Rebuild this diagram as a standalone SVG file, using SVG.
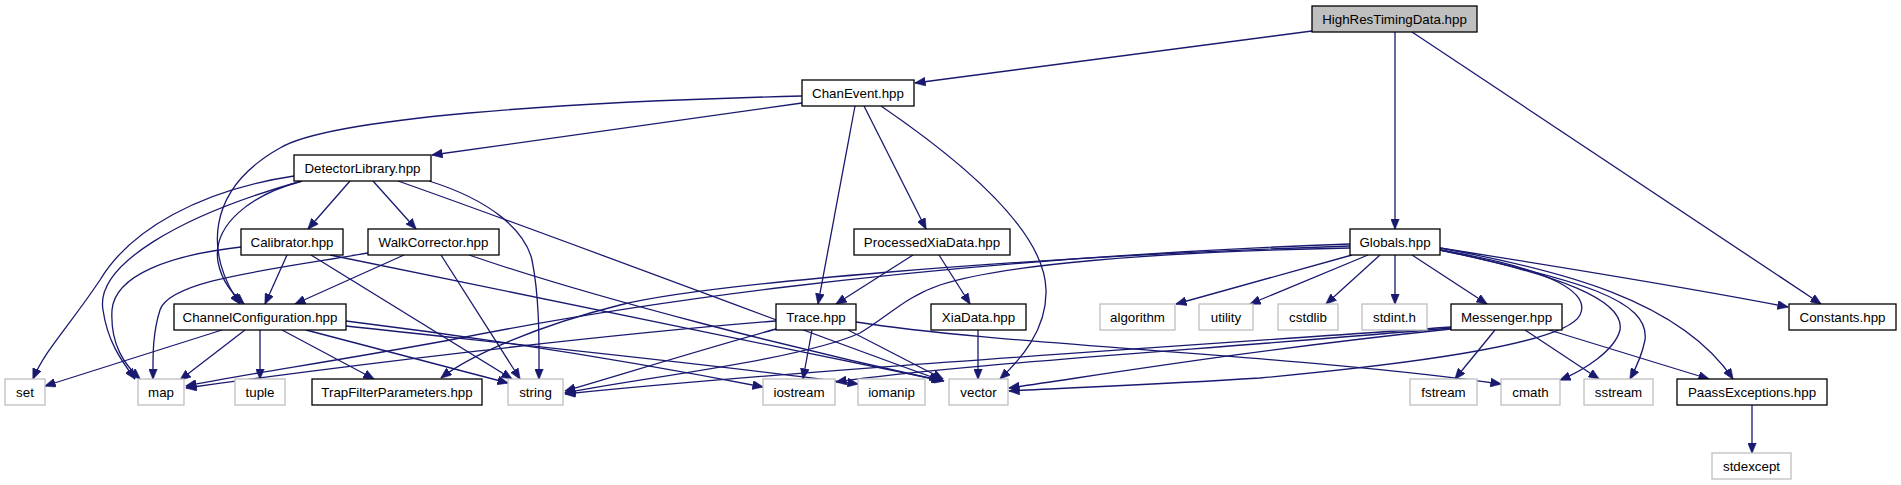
<svg xmlns="http://www.w3.org/2000/svg" width="1901" height="485" viewBox="0 0 1901 485">
<style>
.n rect{fill:#fff;stroke:#000;stroke-width:1.3}
.g rect{fill:#fff;stroke:#bfbfbf;stroke-width:1.3}
.r rect{fill:#bfbfbf;stroke:#000;stroke-width:1.3}
text{font-family:"Liberation Sans",Arial,sans-serif;font-size:13.33px;text-anchor:middle;fill:#000}
#edges path{fill:none;stroke:#191970;stroke-width:1.3;marker-end:url(#a)}
</style>
<defs>
<marker id="a" markerWidth="11" markerHeight="9" refX="10.5" refY="4.5" orient="auto" markerUnits="userSpaceOnUse">
<path d="M0,0 L11,4.5 L0,9 z" fill="#191970" stroke="#191970" stroke-width="0.5"/>
</marker>
</defs>
<rect width="1901" height="485" fill="#fff"/>
<g id="edges">
<path d="M1312,31 L915,83"/>
<path d="M1395,32 L1395,229"/>
<path d="M1412,32 L1821,304"/>
<path d="M802,103 L432,155"/>
<path d="M802,96 C560,102 330,118 280,148 C205,190 205,255 240,304"/>
<path d="M855,106 L818,304"/>
<path d="M864,106 L926,229"/>
<path d="M881,106 C960,160 1045,230 1046,290 C1047,330 1020,360 1000,379"/>
<path d="M350,181 L308,229"/>
<path d="M373,181 L416,229"/>
<path d="M302,181 C250,195 212,225 218,262 C222,282 232,293 244,304"/>
<path d="M294,176 C200,190 130,230 100,280 C70,325 45,350 33,379"/>
<path d="M302,181 C180,215 95,265 103,310 C108,345 125,365 135,379"/>
<path d="M429,181 C490,200 525,230 532,260 C540,300 539,345 539,379"/>
<path d="M398,181 C560,238 800,330 940,380"/>
<path d="M287,255 L265,304"/>
<path d="M241,247 C170,255 115,275 112,310 C110,345 125,365 140,379"/>
<path d="M311,255 L512,379"/>
<path d="M330,255 L944,381"/>
<path d="M404,255 L295,304"/>
<path d="M368,253 C270,270 170,280 160,310 C152,335 153,360 153,379"/>
<path d="M441,255 L520,379"/>
<path d="M469,255 C600,300 800,350 942,381"/>
<path d="M222,330 L45,386"/>
<path d="M245,330 L180,380"/>
<path d="M260,330 L260,379"/>
<path d="M282,330 L374,379"/>
<path d="M306,330 L508,383"/>
<path d="M346,321 C500,340 650,365 763,387"/>
<path d="M346,326 C520,345 720,365 858,384"/>
<path d="M913,255 L836,304"/>
<path d="M939,255 L970,304"/>
<path d="M776,321 C600,335 350,365 186,388"/>
<path d="M776,329 C700,350 620,375 565,391"/>
<path d="M812,330 L803,379"/>
<path d="M848,330 L943,379"/>
<path d="M856,322 C1000,345 1300,355 1501,384"/>
<path d="M978,330 L978,379"/>
<path d="M1350,244 C900,260 600,310 450,340 C330,362 240,375 186,386"/>
<path d="M1350,246 C1000,258 700,285 620,305 C540,325 470,355 441,378"/>
<path d="M1350,248 C1150,252 1000,265 940,285 C905,297 890,315 860,333 C800,360 640,378 565,393"/>
<path d="M1440,250 C1560,270 1590,295 1580,315 C1565,345 1400,365 1260,378 C1150,385 1060,388 1009,391"/>
<path d="M1352,255 L1176,304"/>
<path d="M1368,255 L1250,304"/>
<path d="M1380,255 L1326,304"/>
<path d="M1395,255 L1395,304"/>
<path d="M1412,255 L1487,304"/>
<path d="M1440,248 C1580,270 1700,290 1788,307"/>
<path d="M1440,250 C1560,275 1625,300 1620,330 C1615,350 1585,370 1560,380"/>
<path d="M1440,250 C1580,280 1650,300 1645,340 C1642,355 1636,368 1630,379"/>
<path d="M1440,248 C1560,270 1680,300 1733,379"/>
<path d="M1451,327 C1200,345 800,370 565,394"/>
<path d="M1451,328 C1200,350 950,365 836,382"/>
<path d="M1451,329 C1250,350 1100,375 1009,388"/>
<path d="M1495,330 L1455,379"/>
<path d="M1525,330 L1599,379"/>
<path d="M1546,329 L1709,379"/>
<path d="M1752,404 L1752,453"/>
</g>
<g id="HighResTimingData" class="r"><rect x="1312" y="6" width="165" height="26"/><text x="1394.5" y="23.5">HighResTimingData.hpp</text></g>
<g id="ChanEvent" class="n"><rect x="802" y="80" width="112" height="26"/><text x="858" y="97.5">ChanEvent.hpp</text></g>
<g id="DetectorLibrary" class="n"><rect x="294" y="155" width="137" height="26"/><text x="362.5" y="172.5">DetectorLibrary.hpp</text></g>
<g id="Calibrator" class="n"><rect x="241" y="229" width="102" height="26"/><text x="292" y="246.5">Calibrator.hpp</text></g>
<g id="WalkCorrector" class="n"><rect x="368" y="229" width="131" height="26"/><text x="433.5" y="246.5">WalkCorrector.hpp</text></g>
<g id="ProcessedXiaData" class="n"><rect x="854" y="229" width="156" height="26"/><text x="932" y="246.5">ProcessedXiaData.hpp</text></g>
<g id="Globals" class="n"><rect x="1350" y="229" width="90" height="26"/><text x="1395" y="246.5">Globals.hpp</text></g>
<g id="ChannelConfiguration" class="n"><rect x="174" y="304" width="172" height="26"/><text x="260" y="321.5">ChannelConfiguration.hpp</text></g>
<g id="Trace" class="n"><rect x="776" y="304" width="80" height="26"/><text x="816" y="321.5">Trace.hpp</text></g>
<g id="XiaData" class="n"><rect x="931" y="304" width="95" height="26"/><text x="978.5" y="321.5">XiaData.hpp</text></g>
<g id="algorithm" class="g"><rect x="1100" y="304" width="75" height="26"/><text x="1137.5" y="321.5">algorithm</text></g>
<g id="utility" class="g"><rect x="1199" y="304" width="54" height="26"/><text x="1226" y="321.5">utility</text></g>
<g id="cstdlib" class="g"><rect x="1278" y="304" width="60" height="26"/><text x="1308" y="321.5">cstdlib</text></g>
<g id="stdint" class="g"><rect x="1362" y="304" width="65" height="26"/><text x="1394.5" y="321.5">stdint.h</text></g>
<g id="Messenger" class="n"><rect x="1451" y="304" width="111" height="26"/><text x="1506.5" y="321.5">Messenger.hpp</text></g>
<g id="Constants" class="n"><rect x="1789" y="304" width="107" height="26"/><text x="1842.5" y="321.5">Constants.hpp</text></g>
<g id="set" class="g"><rect x="5" y="379" width="40" height="26"/><text x="25" y="396.5">set</text></g>
<g id="map" class="g"><rect x="138" y="379" width="46" height="26"/><text x="161" y="396.5">map</text></g>
<g id="tuple" class="g"><rect x="235" y="379" width="50" height="26"/><text x="260" y="396.5">tuple</text></g>
<g id="TrapFilterParameters" class="n"><rect x="312" y="379" width="170" height="26"/><text x="397" y="396.5">TrapFilterParameters.hpp</text></g>
<g id="string" class="g"><rect x="508" y="379" width="55" height="26"/><text x="535.5" y="396.5">string</text></g>
<g id="iostream" class="g"><rect x="763" y="379" width="72" height="26"/><text x="799" y="396.5">iostream</text></g>
<g id="iomanip" class="g"><rect x="858" y="379" width="67" height="26"/><text x="891.5" y="396.5">iomanip</text></g>
<g id="vector" class="g"><rect x="949" y="379" width="59" height="26"/><text x="978.5" y="396.5">vector</text></g>
<g id="fstream" class="g"><rect x="1410" y="379" width="67" height="26"/><text x="1443.5" y="396.5">fstream</text></g>
<g id="cmath" class="g"><rect x="1501" y="379" width="59" height="26"/><text x="1530.5" y="396.5">cmath</text></g>
<g id="sstream" class="g"><rect x="1584" y="379" width="69" height="26"/><text x="1618.5" y="396.5">sstream</text></g>
<g id="PaassExceptions" class="n"><rect x="1677" y="379" width="150" height="26"/><text x="1752" y="396.5">PaassExceptions.hpp</text></g>
<g id="stdexcept" class="g"><rect x="1712" y="453" width="79" height="26"/><text x="1751.5" y="470.5">stdexcept</text></g>
</svg>
